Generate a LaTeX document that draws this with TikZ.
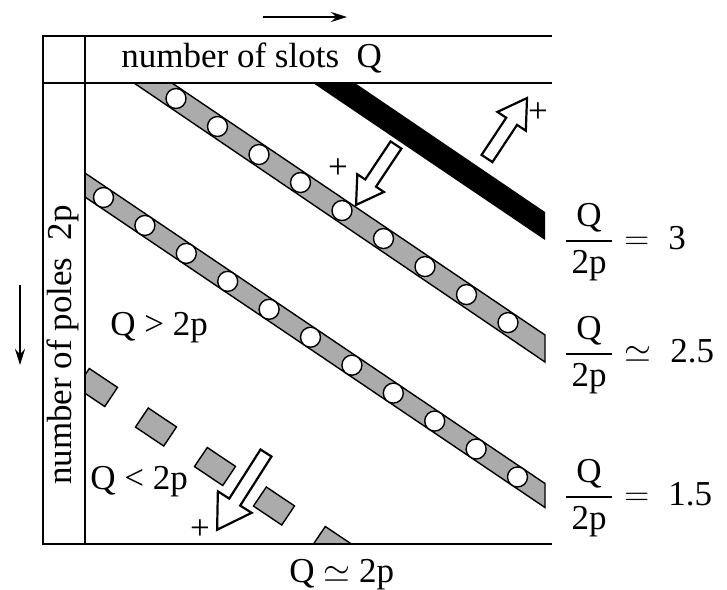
\documentclass[tikz,border=0pt]{standalone}
\usepackage{amsmath}
\usepackage{fontspec}
\setmainfont{Liberation Serif}
\usepackage{tikz}
\usetikzlibrary{arrows.meta,arrows}

\tikzset{
  band/.style={draw=black,fill=black!33,line width=0.7pt},
  hole/.style={draw=black,fill=white,line width=0.7pt},
  frame/.style={line width=1.2pt},
  lbl/.style={font=\fontsize{17.5}{20}\selectfont,inner sep=0pt},
}
% hollow block arrow: tail, angle, length, head width
\newcommand{\hollowarrow}[4]{%
  \begin{scope}[shift={#1},rotate=#2]
    \draw[line width=1.1pt,fill=white,line join=miter]
      (0,-6.5)--({#3-0.82*#4},-6.5)--({#3-0.82*#4},{-#4/2})--(#3,0)
      --({#3-0.82*#4},{#4/2})--({#3-0.82*#4},6.5)--(0,6.5)--cycle;
  \end{scope}}
\newcommand{\qratio}[2]{$\dfrac{\text{Q}}{\,\text{2p}\,}#1\;\text{#2}$}

\begin{document}
\begin{tikzpicture}[x=0.5pt,y=-0.5pt,>=stealth]
\useasboundingbox (0,0) rectangle (727,589);

% slot bands
\draw[band](134,83)--(172,83)--(545,335)--(545,362)--cycle;
\foreach \k in {0,...,8}
  \draw[hole]({176+41.5*\k},{98.5+41.5*\k*0.675})circle(10);
\draw[band](85,173)--(545,483.5)--(545,507.5)--(85,197)--cycle;
\foreach \k in {0,...,10}
  \draw[hole]({103.5+41.4*\k},{197.5+41.4*\k*0.675})circle(10);
\fill(313,83)--(355,83)--(545,212)--(545,240)--cycle;
\begin{scope}
  \clip(85,83)rectangle(560,544);
  \foreach \k in {0,...,4}
    \draw[band,shift={({97+59*\k},{387.5+39.5*\k})},rotate=-33.8](-17,-11.5)rectangle(17,11.5);
\end{scope}

% table frame
\draw[frame](552,36)--(43,36)--(43,544)--(552,544);
\draw[frame](43,83)--(552,83);
\draw[line width=0.9pt](85,36)--(85,544);

% directions
\draw[-{Stealth[length=8pt,width=5pt]},line width=1pt](263,17)--(347,17);
\draw[-{Stealth[length=8pt,width=5pt]},line width=1pt](20,285)--(20,365);

\hollowarrow{(487,158.5)}{56.5}{72.5}{34}
\hollowarrow{(396,145)}{-123.7}{72}{32}
\hollowarrow{(266,453)}{-122.5}{91}{40}

\node[lbl](p1)at(538,113){+};
\node[lbl](p2)at(338,169){+};
\node[lbl](p3)at(200,530){+};

\node[lbl,anchor=base west](slots)at(121,67){number of slots\ \ Q};
\node[lbl,rotate=90](poles)at(63,345){number of poles\ \ 2p};
\node[lbl,anchor=base west](more)at(110,335){Q > 2p};
\node[lbl,anchor=base west](less)at(90,489){Q < 2p};
\node[lbl,anchor=base west](equal)at(289,582){Q $\simeq$ 2p};

\node[lbl,anchor=west](r3)at(563,242){\qratio{=}{3}};
\node[lbl,anchor=west](r25)at(563,355){\qratio{\simeq}{2.5}};
\node[lbl,anchor=west](r15)at(563,498){\qratio{=}{1.5}};
\end{tikzpicture}
\end{document}
